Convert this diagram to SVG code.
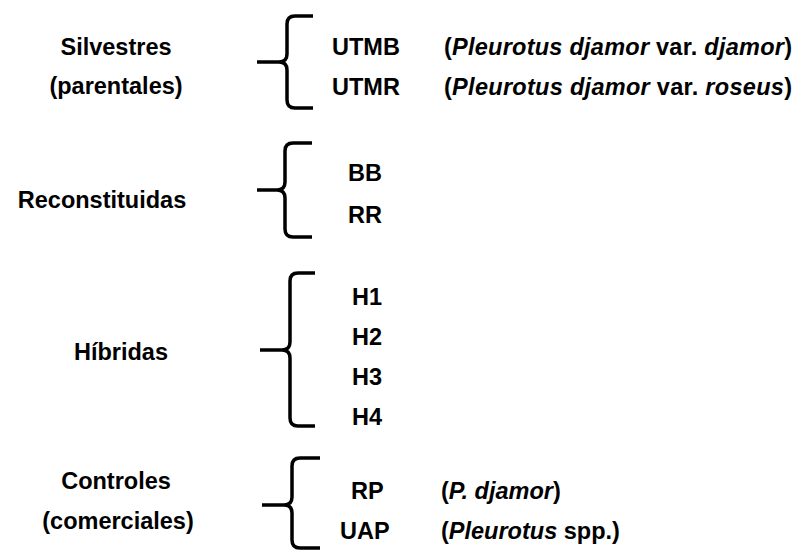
<svg xmlns="http://www.w3.org/2000/svg" width="795" height="551" viewBox="0 0 795 551">
<style>
text{font-family:"Liberation Sans",Arial,sans-serif;font-weight:bold;font-size:23.5px;fill:#000}
.m{text-anchor:middle}
.i{font-style:italic}
.br{fill:none;stroke:#000;stroke-width:3.5;stroke-linecap:butt;stroke-linejoin:round}
</style>
<rect width="795" height="551" fill="#fff"/>
<g id="connectors">
<path class="br" d="M313,16 H295 Q287,16 287,24 V54 Q287,62 279,62 H257 M279,62 Q287,62 287,70 V100 Q287,108 295,108 H313"/>
<path class="br" d="M312,143 H293 Q285,143 285,151 V182 Q285,190 277,190 H257 M277,190 Q285,190 285,198 V229 Q285,237 293,237 H312"/>
<path class="br" d="M315,273 H298 Q290,273 290,281 V342 Q290,350 282,350 H260 M282,350 Q290,350 290,358 V418 Q290,426 298,426 H315"/>
<path class="br" d="M320,458 H300 Q292,458 292,466 V497 Q292,505 284,505 H262 M284,505 Q292,505 292,513 V540 Q292,548 300,548 H320"/>
</g>
<g id="silvestres">
<text class="m" x="116" y="55">Silvestres</text>
<text class="m" x="116" y="94">(parentales)</text>
</g>
<g id="utmb"><text x="332" y="55">UTMB</text><text x="444" y="55" textLength="348">(<tspan class="i">Pleurotus djamor</tspan> var. <tspan class="i">djamor</tspan>)</text></g>
<g id="utmr"><text x="332" y="95">UTMR</text><text x="444" y="95" textLength="348">(<tspan class="i">Pleurotus djamor</tspan> var. <tspan class="i">roseus</tspan>)</text></g>
<g id="reconstituidas"><text class="m" x="102" y="208">Reconstituidas</text></g>
<g id="bb"><text x="348" y="181">BB</text></g>
<g id="rr"><text x="348" y="223">RR</text></g>
<g id="hibridas"><text class="m" x="121" y="360">Híbridas</text></g>
<g id="h1"><text x="352" y="305">H1</text></g>
<g id="h2"><text x="352" y="345">H2</text></g>
<g id="h3"><text x="352" y="385">H3</text></g>
<g id="h4"><text x="352" y="425">H4</text></g>
<g id="controles">
<text class="m" x="116" y="489">Controles</text>
<text class="m" x="118" y="529">(comerciales)</text>
</g>
<g id="rp"><text x="351" y="499">RP</text><text x="441" y="499">(<tspan class="i">P. djamor</tspan>)</text></g>
<g id="uap"><text x="340" y="539">UAP</text><text x="441" y="539">(<tspan class="i">Pleurotus</tspan> spp.)</text></g>
</svg>
